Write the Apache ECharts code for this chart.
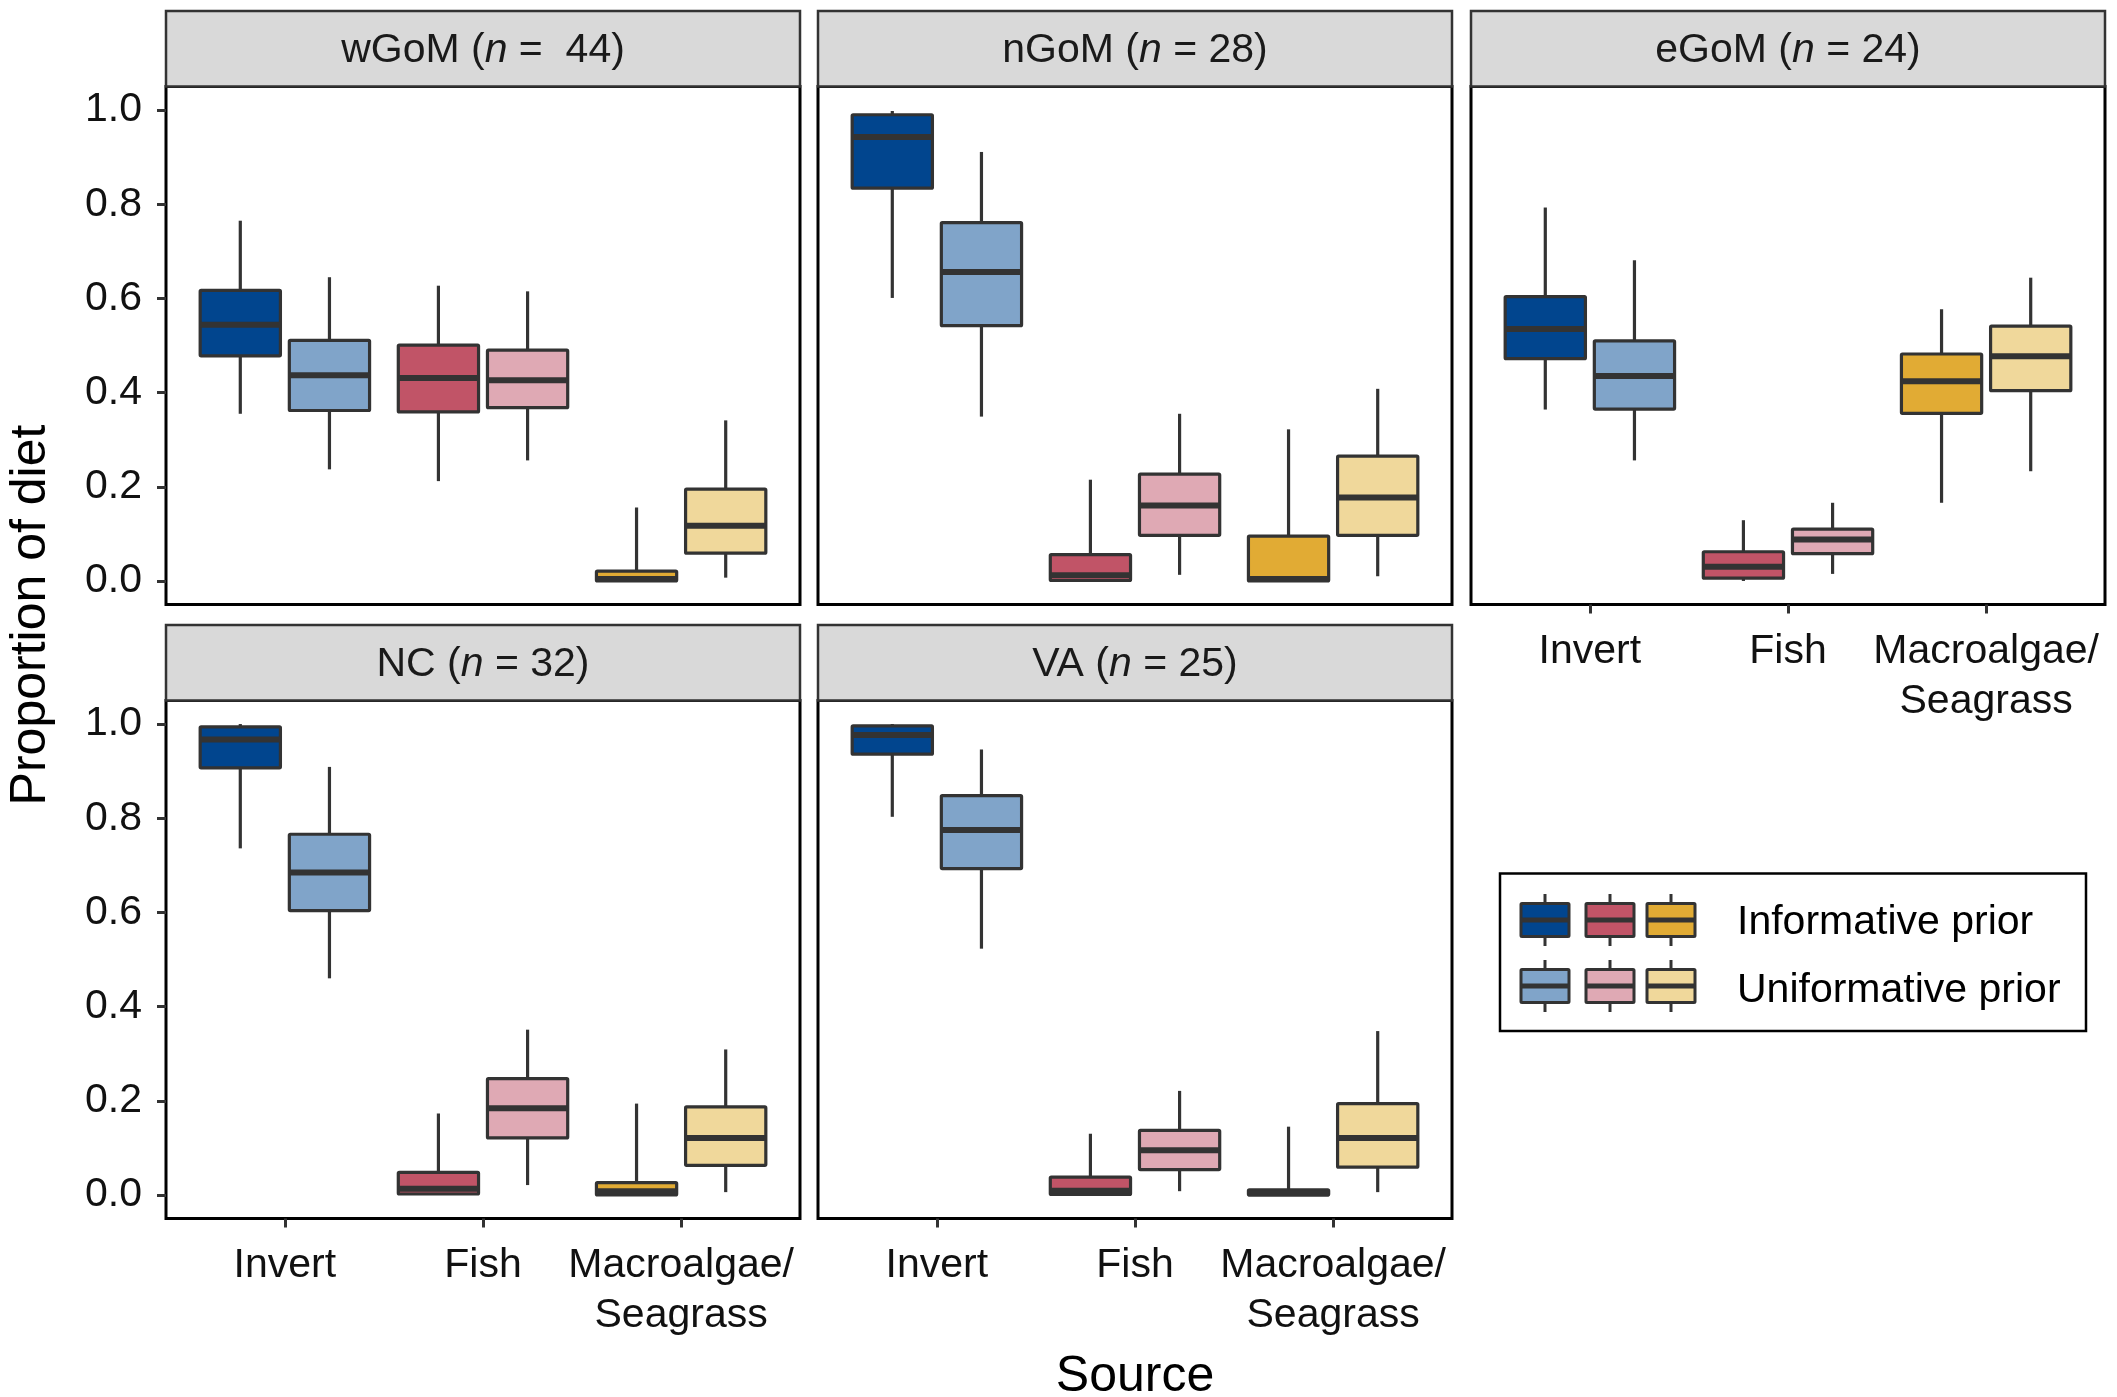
<!DOCTYPE html>
<html><head><meta charset="utf-8">
<style>html,body{margin:0;padding:0;background:#fff}#c{width:2117px;height:1397px}</style>
<script src="https://cdn.jsdelivr.net/npm/echarts@6.0.0/dist/echarts.min.js"></script>
</head><body><div id="c"></div>
<script>
// ---------------- data ----------------
const facets = ['wGoM', 'nGoM', 'eGoM', 'NC', 'VA'];
const facetN = [' 44', '28', '24', '32', '25'];
const sources = ['Invert', 'Fish', 'Macroalgae/\nSeagrass'];
const priors = ['Informative prior', 'Uniformative prior'];
const yTicks = [0, 0.2, 0.4, 0.6, 0.8, 1.0];
const xTicks = [1, 2, 3];
const infColors = ['#01458E', '#C15467', '#E1AB34'];
const uniColors = ['#80A4C9', '#DFA9B4', '#F0D89B'];
// five-number summaries [min, q1, median, q3, max] for Invert, Fish, Macroalgae/Seagrass
const wGoM_inf = [[0.355, 0.478, 0.544, 0.617, 0.765], [0.212, 0.359, 0.431, 0.501, 0.627], [0.000, 0.000, 0.004, 0.021, 0.156]];
const wGoM_uni = [[0.237, 0.362, 0.437, 0.511, 0.645], [0.256, 0.368, 0.426, 0.490, 0.615], [0.007, 0.059, 0.117, 0.195, 0.341]];
const nGoM_inf = [[0.601, 0.834, 0.943, 0.990, 0.998], [0.000, 0.001, 0.012, 0.056, 0.215], [0.000, 0.000, 0.004, 0.095, 0.322]];
const nGoM_uni = [[0.349, 0.542, 0.656, 0.761, 0.911], [0.013, 0.097, 0.160, 0.227, 0.355], [0.010, 0.097, 0.177, 0.265, 0.408]];
const eGoM_inf = [[0.364, 0.472, 0.535, 0.604, 0.793], [0.000, 0.006, 0.030, 0.062, 0.129], [0.166, 0.356, 0.424, 0.482, 0.577]];
const eGoM_uni = [[0.256, 0.365, 0.435, 0.510, 0.681], [0.015, 0.058, 0.088, 0.110, 0.166], [0.233, 0.404, 0.477, 0.541, 0.644]];
const NC_inf = [[0.736, 0.907, 0.967, 0.994, 1.000], [0.000, 0.002, 0.013, 0.048, 0.173], [0.000, 0.000, 0.008, 0.026, 0.194]];
const NC_uni = [[0.460, 0.604, 0.685, 0.766, 0.909], [0.021, 0.121, 0.184, 0.247, 0.351], [0.006, 0.063, 0.121, 0.187, 0.309]];
const VA_inf = [[0.803, 0.936, 0.977, 0.996, 1.000], [0.000, 0.001, 0.009, 0.038, 0.130], [0.000, 0.000, 0.003, 0.011, 0.145]];
const VA_uni = [[0.523, 0.693, 0.775, 0.848, 0.946], [0.008, 0.054, 0.095, 0.137, 0.221], [0.006, 0.059, 0.121, 0.194, 0.348]];

const infStats = [wGoM_inf, nGoM_inf, eGoM_inf, NC_inf, VA_inf];
const uniStats = [wGoM_uni, nGoM_uni, eGoM_uni, NC_uni, VA_uni];

// ---------------- layout ----------------
const FONT = '"Liberation Sans", Arial, Helvetica, sans-serif';
const FS = 41;
const colLeft = [166, 818, 1471];
const panelW = 634;
const rowTop = [86.5, 700.5];
const panelH = 518;
const stripH = 75.5;
const facetCol = [0, 1, 2, 0, 1];
const facetRow = [0, 0, 0, 1, 1];
const OUT = '#333333';
const DODGE = 0.225, BOXW = 0.405;

function renderer(offset, colors) {
  return function (params, api) {
    const cat = api.value(0);
    const mn = api.value(1), q1 = api.value(2), md = api.value(3), q3 = api.value(4), mx = api.value(5);
    const xc = cat + offset;
    const cx = api.coord([xc, md])[0];
    const xl = api.coord([xc - BOXW / 2, md])[0];
    const xr = api.coord([xc + BOXW / 2, md])[0];
    const yMin = api.coord([xc, mn])[1];
    const yQ1 = api.coord([xc, q1])[1];
    const yMd = api.coord([xc, md])[1];
    const yQ3 = api.coord([xc, q3])[1];
    const yMax = api.coord([xc, mx])[1];
    const color = colors[params.dataIndex];
    return {
      type: 'group',
      children: [
        { type: 'line', shape: { x1: cx, y1: yMax, x2: cx, y2: yQ3 }, style: { stroke: OUT, lineWidth: 3.2 } },
        { type: 'line', shape: { x1: cx, y1: yQ1, x2: cx, y2: yMin }, style: { stroke: OUT, lineWidth: 3.2 } },
        { type: 'rect', shape: { x: xl, y: yQ3, width: xr - xl, height: Math.max(yQ1 - yQ3, 0.5), r: 1 },
          style: { fill: color, stroke: OUT, lineWidth: 3.2, lineJoin: 'round' } },
        { type: 'line', shape: { x1: xl, y1: yMd, x2: xr, y2: yMd }, style: { stroke: OUT, lineWidth: 6, lineCap: 'butt' } }
      ]
    };
  };
}

const grids = [], xAxes = [], yAxes = [], series = [], graphics = [];
facets.forEach((f, i) => {
  const L = colLeft[facetCol[i]], T = rowTop[facetRow[i]];
  const showY = facetCol[i] === 0;
  const showX = i >= 2;
  grids.push({ left: L, top: T, width: panelW, height: panelH, show: true, borderColor: '#000', borderWidth: 3, backgroundColor: '#fff', containLabel: false });
  xAxes.push({
    type: 'value', gridIndex: i, min: 0.4, max: 3.6, position: 'bottom',
    axisLine: { show: false, onZero: false }, splitLine: { show: false },
    axisTick: { show: showX, inside: false, customValues: xTicks, length: 9, lineStyle: { color: OUT, width: 3 } },
    axisLabel: { show: showX, customValues: xTicks, margin: 22, fontSize: FS, fontFamily: FONT, color: '#111', lineHeight: 50,
      formatter: v => sources[Math.round(v) - 1] }
  });
  yAxes.push({
    type: 'value', gridIndex: i, min: -0.05, max: 1.05, position: 'left',
    axisLine: { show: false, onZero: false }, splitLine: { show: false },
    axisTick: { show: showY, inside: false, customValues: yTicks, length: 9, lineStyle: { color: OUT, width: 3 } },
    axisLabel: { show: showY, customValues: yTicks, margin: 24, fontSize: FS, fontFamily: FONT, color: '#111',
      formatter: v => v.toFixed(1) }
  });
  [[infStats[i], -DODGE, infColors, priors[0]], [uniStats[i], DODGE, uniColors, priors[1]]].forEach(([st, off, cols, nm]) => {
    series.push({
      type: 'custom', name: nm, xAxisIndex: i, yAxisIndex: i, z: 5,
      renderItem: renderer(off, cols),
      encode: { x: 0, y: [1, 2, 3, 4, 5] },
      data: st.map((s, k) => [k + 1].concat(s))
    });
  });
  // strip
  graphics.push({ type: 'rect', z: 20, shape: { x: L, y: T - stripH, width: panelW, height: stripH },
    style: { fill: '#D9D9D9', stroke: OUT, lineWidth: 2.5 } });
  graphics.push({ type: 'text', z: 21, x: L + panelW / 2, y: T - stripH / 2 + 2,
    style: { text: '{a|' + f + ' (}{b|n}{a| = ' + facetN[i] + ')}', align: 'center', verticalAlign: 'middle',
      rich: { a: { fontSize: FS, fontFamily: FONT, fill: '#1a1a1a' }, b: { fontSize: FS, fontFamily: FONT, fontStyle: 'italic', fill: '#1a1a1a' } } } });
});

// axis titles
graphics.push({ type: 'text', z: 21, x: 31, y: 615, rotation: Math.PI / 2,
  style: { text: 'Proportion of diet', fontSize: 50, fontFamily: FONT, fill: '#000', align: 'center', verticalAlign: 'middle' } });
graphics.push({ type: 'text', z: 21, x: 1135, y: 1377,
  style: { text: 'Source', fontSize: 50, fontFamily: FONT, fill: '#000', align: 'center', verticalAlign: 'middle' } });

// legend
graphics.push({ type: 'rect', z: 20, shape: { x: 1500, y: 873.5, width: 586, height: 157.5 },
  style: { fill: '#fff', stroke: '#000', lineWidth: 2.5 } });
const keyX = [1521, 1586, 1647], rowY = [920, 986];
[infColors, uniColors].forEach((cols, r) => {
  const cy = rowY[r];
  cols.forEach((c, k) => {
    const x0 = keyX[k], w = 48, xm = x0 + w / 2;
    graphics.push({ type: 'line', z: 21, shape: { x1: xm, y1: cy - 26, x2: xm, y2: cy + 26 }, style: { stroke: OUT, lineWidth: 3 } });
    graphics.push({ type: 'rect', z: 22, shape: { x: x0, y: cy - 16.5, width: w, height: 33, r: 1 }, style: { fill: c, stroke: OUT, lineWidth: 3 } });
    graphics.push({ type: 'line', z: 23, shape: { x1: x0, y1: cy, x2: x0 + w, y2: cy }, style: { stroke: OUT, lineWidth: 5 } });
  });
  graphics.push({ type: 'text', z: 21, x: 1737, y: cy + 3 + r * 2,
    style: { text: priors[r], fontSize: FS, fontFamily: FONT, fill: '#000', align: 'left', verticalAlign: 'middle' } });
});

const chart = echarts.init(document.getElementById('c'), null, { renderer: 'canvas', width: 2117, height: 1397 });
chart.setOption({
  animation: false,
  backgroundColor: '#fff',
  grid: grids, xAxis: xAxes, yAxis: yAxes, series: series, graphic: graphics
});
</script></body></html>
